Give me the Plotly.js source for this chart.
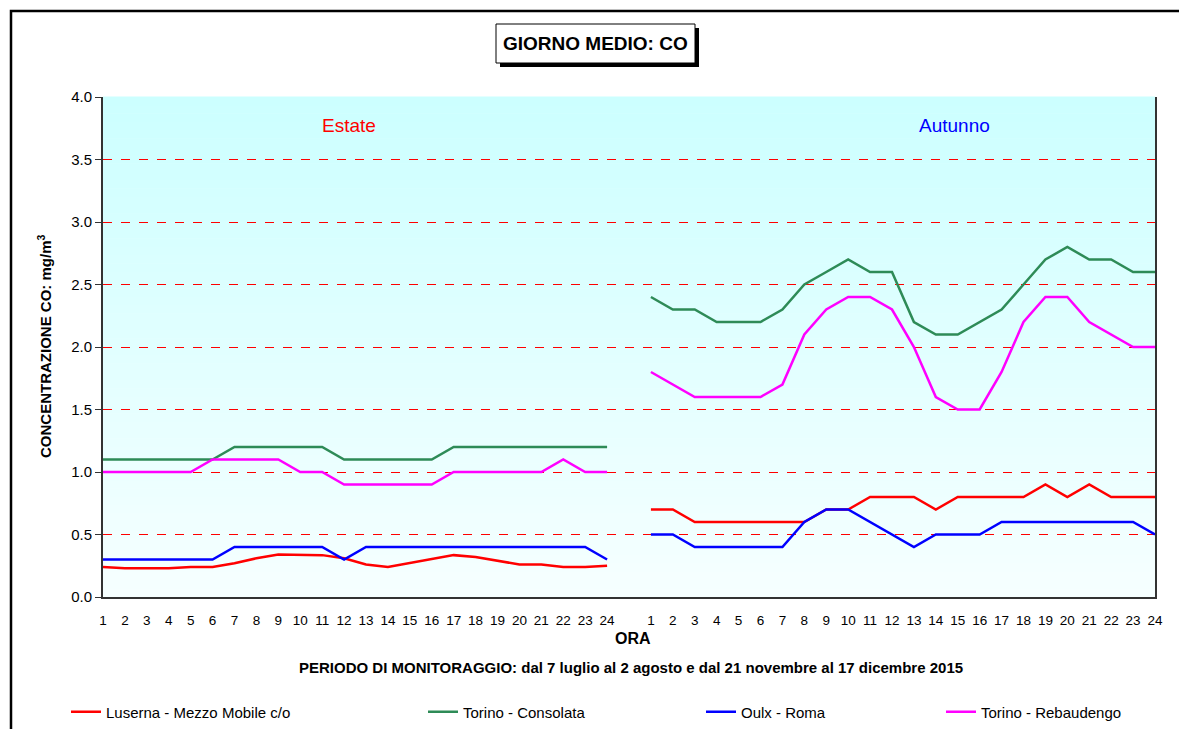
<!DOCTYPE html>
<html>
<head>
<meta charset="utf-8">
<script src="https://cdn.plot.ly/plotly-3.0.1.min.js"></script>
<style>
  html, body { margin: 0; padding: 0; background: #ffffff; }
  #chart { width: 1179px; height: 729px; }
</style>
</head>
<body>
<div id="chart"></div>
<script>
// ---- DATA ----
const hours = [1,2,3,4,5,6,7,8,9,10,11,12,13,14,15,16,17,18,19,20,21,22,23,24];
const seasons = ["Estate", "Autunno"];
const stations = ["Luserna - Mezzo Mobile c/o", "Torino - Consolata", "Oulx - Roma", "Torino - Rebaudengo"];

const estateLuserna    = [0.24,0.23,0.23,0.23,0.24,0.24,0.27,0.31,0.34,0.34,0.335,0.31,0.26,0.24,0.27,0.30,0.335,0.32,0.29,0.26,0.26,0.24,0.24,0.25];
const estateConsolata  = [1.1,1.1,1.1,1.1,1.1,1.1,1.2,1.2,1.2,1.2,1.2,1.1,1.1,1.1,1.1,1.1,1.2,1.2,1.2,1.2,1.2,1.2,1.2,1.2];
const estateOulx       = [0.3,0.3,0.3,0.3,0.3,0.3,0.4,0.4,0.4,0.4,0.4,0.3,0.4,0.4,0.4,0.4,0.4,0.4,0.4,0.4,0.4,0.4,0.4,0.3];
const estateRebaudengo = [1.0,1.0,1.0,1.0,1.0,1.1,1.1,1.1,1.1,1.0,1.0,0.9,0.9,0.9,0.9,0.9,1.0,1.0,1.0,1.0,1.0,1.1,1.0,1.0];

const autunnoLuserna    = [0.7,0.7,0.6,0.6,0.6,0.6,0.6,0.6,0.7,0.7,0.8,0.8,0.8,0.7,0.8,0.8,0.8,0.8,0.9,0.8,0.9,0.8,0.8,0.8];
const autunnoConsolata  = [2.4,2.3,2.3,2.2,2.2,2.2,2.3,2.5,2.6,2.7,2.6,2.6,2.2,2.1,2.1,2.2,2.3,2.5,2.7,2.8,2.7,2.7,2.6,2.6];
const autunnoOulx       = [0.5,0.5,0.4,0.4,0.4,0.4,0.4,0.6,0.7,0.7,0.6,0.5,0.4,0.5,0.5,0.5,0.6,0.6,0.6,0.6,0.6,0.6,0.6,0.5];
const autunnoRebaudengo = [1.8,1.7,1.6,1.6,1.6,1.6,1.7,2.1,2.3,2.4,2.4,2.3,2.0,1.6,1.5,1.5,1.8,2.2,2.4,2.4,2.2,2.1,2.0,2.0];

const yTicks = [0.0,0.5,1.0,1.5,2.0,2.5,3.0,3.5,4.0];

// ---- BUILD ----
const colors = ["#ff0000", "#2e8b57", "#0000ff", "#ff00ff"];
const estateSeries  = [estateLuserna, estateConsolata, estateOulx, estateRebaudengo];
const autunnoSeries = [autunnoLuserna, autunnoConsolata, autunnoOulx, autunnoRebaudengo];

// category positions: summer hours, one empty slot, autumn hours
const xEstate  = hours.map((h, i) => i);
const xAutunno = hours.map((h, i) => i + hours.length + 1);
const xGap = hours.length;
const tickvals = xEstate.concat(xAutunno);
const ticktext = hours.concat(hours).map(String);

const legendX = [68, 425, 703, 943];
const traces = stations.map((name, k) => ({
  type: "scatter",
  mode: "lines",
  name: name,
  x: xEstate.concat([xGap], xAutunno),
  y: estateSeries[k].concat([null], autunnoSeries[k]),
  connectgaps: false,
  line: { color: colors[k], width: 2.5 },
  legend: k === 0 ? "legend" : "legend" + (k + 1),
  hoverinfo: "x+y+name"
}));

// plot area in px
const L = 103, R = 24, T = 97, B = 132, W = 1179, H = 729;
const pw = W - L - R, ph = H - T - B;
const px = x => (x - L) / pw;
const py = y => (H - B - y) / ph;

// gradient background bands
const shapes = [];
const nb = 60;
for (let i = 0; i < nb; i++) {
  const t = i / (nb - 1);
  const r = Math.round(246 - (246 - 204) * t);
  shapes.push({ type: "rect", xref: "paper", yref: "paper", x0: 0, x1: 1,
    y0: i / nb, y1: (i + 1) / nb + 0.001, fillcolor: `rgb(${r},255,255)`,
    line: { width: 0 }, layer: "below" });
}
// outer frame
shapes.push({ type: "rect", xref: "paper", yref: "paper",
  x0: px(11), x1: px(1200), y0: py(750), y1: py(11),
  line: { color: "#000", width: 2.5 }, fillcolor: "rgba(0,0,0,0)", layer: "above" });
// title box shadow + box
shapes.push({ type: "rect", xref: "paper", yref: "paper",
  x0: px(500), x1: px(699), y0: py(67), y1: py(28),
  line: { color: "#000", width: 0 }, fillcolor: "#000", layer: "above" });
shapes.push({ type: "rect", xref: "paper", yref: "paper",
  x0: px(496), x1: px(695), y0: py(63), y1: py(24),
  line: { color: "#000", width: 1 }, fillcolor: "#fff", layer: "above" });

const font = "Liberation Sans, Arial, sans-serif";
const ann = (text, x, y, size, color, extra) => Object.assign({
  text: text, xref: "paper", yref: "paper", x: px(x), y: py(y),
  xanchor: "center", yanchor: "middle", showarrow: false,
  font: { family: font, size: size, color: color }
}, extra || {});
const annotations = [
  ann("<b>GIORNO MEDIO: CO</b>", 595.5, 44, 19, "#000"),
  ann(seasons[0], 349, 125, 19, "#ff0000"),
  ann(seasons[1], 954, 125, 19, "#0000ff"),
  ann("<b>CONCENTRAZIONE CO: mg/m<sup>3</sup></b>", 44, 346, 15, "#000", { textangle: -90 }),
  ann("<b>ORA</b>", 633, 638, 16, "#000"),
  ann("<b>PERIODO DI MONITORAGGIO: dal 7 luglio al 2 agosto e dal 21 novembre al 17 dicembre 2015</b>", 631, 667, 15, "#000")
];

const legendBase = (x) => ({
  xref: "container", yref: "container", x: (x - 2) / W, y: 1 - 712 / H,
  xanchor: "left", yanchor: "middle", orientation: "h",
  bgcolor: "rgba(0,0,0,0)", borderwidth: 0,
  font: { family: font, size: 15, color: "#000" }, itemwidth: 30
});

const layout = {
  width: W, height: H,
  margin: { l: L, r: R, t: T, b: B, pad: 0 },
  paper_bgcolor: "#ffffff",
  plot_bgcolor: "rgba(0,0,0,0)",
  font: { family: font, size: 13, color: "#000" },
  showlegend: true,
  legend: legendBase(legendX[0]),
  legend2: legendBase(legendX[1]),
  legend3: legendBase(legendX[2]),
  legend4: legendBase(legendX[3]),
  xaxis: {
    range: [0, tickvals[tickvals.length - 1]],
    tickmode: "array", tickvals: tickvals, ticktext: ticktext,
    showgrid: false, zeroline: false,
    showline: true, linecolor: "#333", linewidth: 2, mirror: false,
    ticks: "", ticklabelstandoff: 10,
    tickfont: { family: font, size: 13.5, color: "#000" }
  },
  yaxis: {
    range: [0, 4], tickmode: "array", tickvals: yTicks,
    ticktext: yTicks.map(v => v.toFixed(1)),
    showgrid: true, gridcolor: "#ff0000", gridwidth: 1, griddash: "dash",
    zeroline: false, showline: true, linecolor: "#333", linewidth: 2, mirror: true,
    ticks: "outside", ticklen: 6, tickcolor: "#333", tickwidth: 1,
    tickfont: { family: font, size: 15, color: "#000" }
  },
  shapes: shapes,
  annotations: annotations
};

Plotly.newPlot("chart", traces, layout, { displayModeBar: false, staticPlot: true });
</script>
</body>
</html>
